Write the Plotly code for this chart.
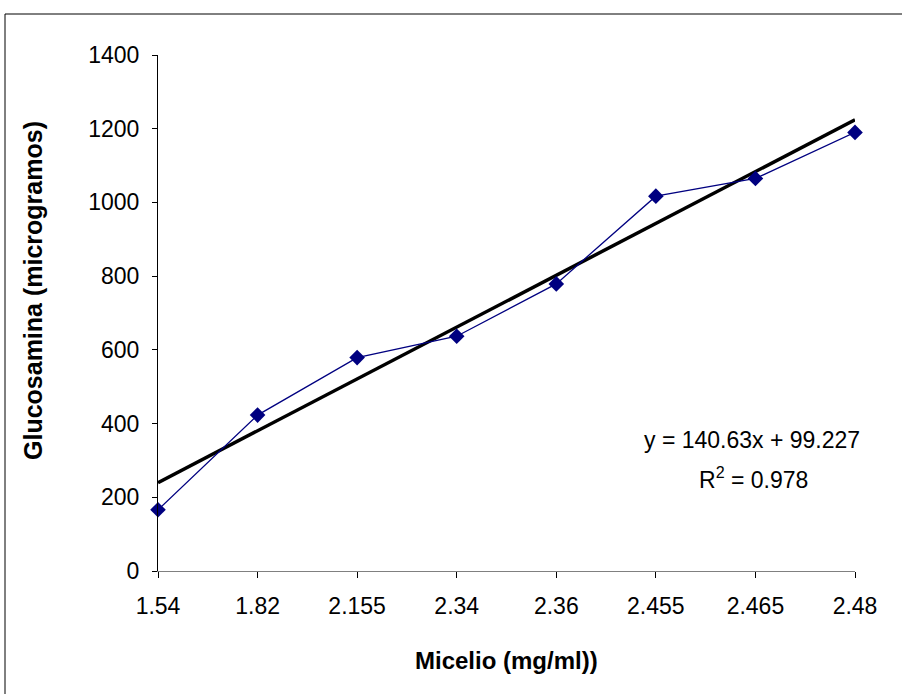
import plotly.graph_objects as go

categories = ["1.54", "1.82", "2.155", "2.34", "2.36", "2.455", "2.465", "2.48"]
glucosamina = [166, 423, 579, 637, 779, 1017, 1065, 1190]
slope = 140.63
intercept = 99.227
r2 = 0.978
y_ticks = [0, 200, 400, 600, 800, 1000, 1200, 1400]

idx = list(range(len(categories)))
trend_x = [idx[0], idx[-1]]
trend_y = [slope * (i + 1) + intercept for i in trend_x]

fig = go.Figure()
fig.add_trace(go.Scatter(
    x=trend_x, y=trend_y, mode="lines",
    line=dict(color="black", width=3.5), hoverinfo="skip", cliponaxis=False,
))
fig.add_trace(go.Scatter(
    x=idx, y=glucosamina, mode="lines+markers",
    line=dict(color="#000080", width=1.3),
    marker=dict(symbol="diamond", size=12, color="#000080"),
    cliponaxis=False,
))

font = "Liberation Sans, Arial, sans-serif"
W, H = 902, 694
L, R, T, B = 158, 855, 55, 571
pw, ph = R - L, B - T

def px(x):
    return (x - L) / pw

def py(y):
    return (B - y) / ph

fig.update_layout(
    width=W, height=H,
    margin=dict(l=L, r=W - R, t=T, b=H - B),
    paper_bgcolor="white", plot_bgcolor="white",
    showlegend=False,
    font=dict(family=font, size=23, color="black"),
    xaxis=dict(
        range=[0, 7], tickvals=idx, ticktext=categories,
        showgrid=False, zeroline=False,
        showline=True, linecolor="#808080", linewidth=1,
        ticks="outside", ticklen=6, tickcolor="black",
        tickfont=dict(size=23), ticklabelstandoff=8,
    ),
    yaxis=dict(
        range=[0, 1400], tickvals=y_ticks,
        showgrid=False, zeroline=False,
        showline=True, linecolor="black", linewidth=1,
        ticks="outside", ticklen=5, tickcolor="black",
        tickfont=dict(size=23), ticklabelstandoff=8,
    ),
    annotations=[
        dict(xref="paper", yref="paper", x=px(506), y=py(660),
             text="<b>Micelio (mg/ml))</b>", showarrow=False,
             font=dict(size=24), xanchor="center", yanchor="middle"),
        dict(xref="paper", yref="paper", x=px(33), y=py(291),
             text="<b>Glucosamina (microgramos)</b>", showarrow=False, textangle=-90,
             font=dict(size=25), xanchor="center", yanchor="middle"),
        dict(xref="paper", yref="paper", x=px(752), y=py(440),
             text=f"y = {slope}x + {intercept}", showarrow=False,
             font=dict(size=23), xanchor="center", yanchor="middle"),
        dict(xref="paper", yref="paper", x=px(753), y=py(478),
             text=f"R<sup>2</sup> = {r2}", showarrow=False,
             font=dict(size=23), xanchor="center", yanchor="middle"),
    ],
    shapes=[
        dict(type="line", xref="paper", yref="paper",
             x0=px(5), x1=px(905), y0=py(14), y1=py(14),
             line=dict(color="black", width=1)),
        dict(type="line", xref="paper", yref="paper",
             x0=px(5), x1=px(5), y0=py(14), y1=py(700),
             line=dict(color="black", width=1)),
    ],
)
fig.write_html(
    "out.html",
    config={"displayModeBar": False},
    post_script="document.body.style.margin='0';document.body.style.overflow='hidden';",
)
